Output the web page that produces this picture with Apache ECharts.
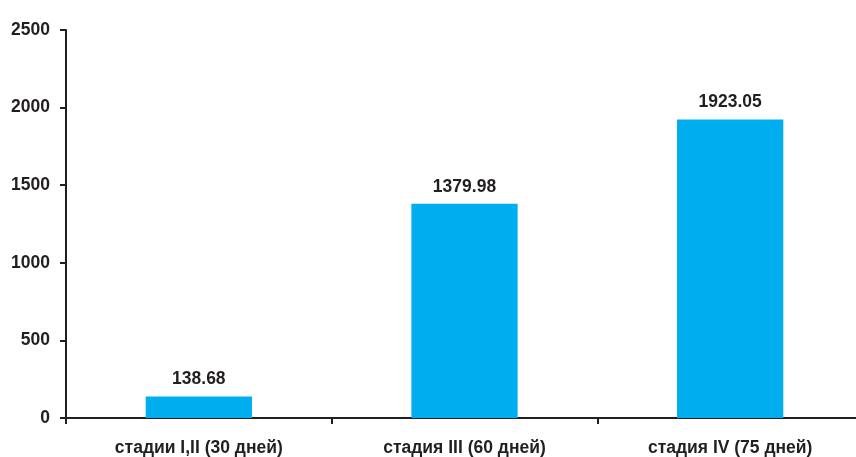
<!DOCTYPE html>
<html><head><meta charset="utf-8">
<script src="https://cdn.jsdelivr.net/npm/echarts@6/dist/echarts.min.js"></script>
<style>html,body{margin:0;padding:0;background:#fff;overflow:hidden;width:856px;height:457px}#c{width:863px;height:457px}</style>
</head><body><div id="c"></div>
<script>
var categories = ['стадии I,II (30 дней)', 'стадия III (60 дней)', 'стадия IV (75 дней)'];
var values = [138.68, 1379.98, 1923.05];
var yTicks = [0, 500, 1000, 1500, 2000, 2500];

var chart = echarts.init(document.getElementById('c'));
var axisColor = '#231f20';
var font = 'Liberation Sans, Arial, sans-serif';
chart.setOption({
  animation: false,
  grid: { left: 66, top: 30, right: 0, bottom: 38, containLabel: false },
  xAxis: {
    type: 'category', data: categories,
    axisLine: { lineStyle: { color: axisColor, width: 2 } },
    axisTick: { show: true, length: 6, lineStyle: { color: axisColor, width: 2 } },
    axisLabel: { color: '#231f20', fontFamily: font, fontWeight: 'bold', fontSize: 17.5, margin: 21 }
  },
  yAxis: {
    type: 'value', min: yTicks[0], max: yTicks[yTicks.length - 1], interval: 500,
    axisLine: { show: true, lineStyle: { color: axisColor, width: 2 } },
    axisTick: { show: true, length: 6, lineStyle: { color: axisColor, width: 2 } },
    splitLine: { show: false },
    axisLabel: { color: '#231f20', fontFamily: font, fontWeight: 'bold', fontSize: 17.5, margin: 16,
      formatter: function (v) { return String(v); } }
  },
  series: [{
    type: 'bar', data: values, barWidth: '40%',
    itemStyle: { color: '#00aeef' },
    label: { show: true, position: 'top', distance: 8, color: '#231f20', fontFamily: font, fontWeight: 'bold', fontSize: 17.5,
      formatter: function (p) { return p.value.toFixed(2); } }
  }]
});
</script></body></html>
